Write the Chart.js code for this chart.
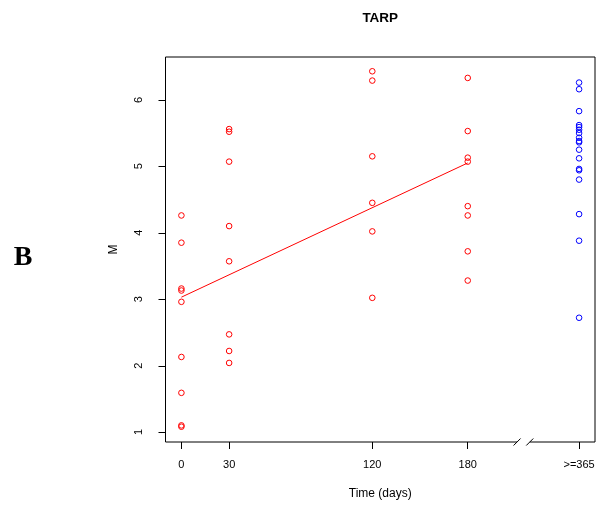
<!DOCTYPE html>
<html>
<head>
<meta charset="utf-8">
<script src="https://cdn.jsdelivr.net/npm/chart.js@4.4.1/dist/chart.umd.min.js"></script>
<style>
  body { margin: 0; background: #fff; }
  #wrap { width: 600px; height: 508px; }
</style>
</head>
<body>
<div id="wrap"><canvas id="tarpChart"></canvas></div>
<script>
// M per time point (days); >=365 is plotted at x = 250 on the broken axis
const day0 = [4.26, 3.85, 3.16, 3.13, 2.96, 2.13, 1.59, 1.10, 1.08];
const day30 = [5.56, 5.52, 5.07, 4.10, 3.57, 2.47, 2.22, 2.04];
const day120 = [6.43, 6.29, 5.15, 4.45, 4.02, 3.02];
const day180 = [6.33, 5.53, 5.13, 5.07, 4.40, 4.26, 3.72, 3.28];
const day365 = [6.26, 6.16, 5.83, 5.62, 5.59, 5.55, 5.50, 5.43, 5.38, 5.36, 5.25, 5.12, 4.96, 4.94, 4.80, 4.28, 3.88, 2.72];

const fitLine = [{ x: 0, y: 3.03 }, { x: 180, y: 5.05 }];

const xTickValues = [0, 30, 120, 180, 250];
const xTickLabels = ['0', '30', '120', '180', '>=365'];
const yTickValues = [1, 2, 3, 4, 5, 6];

const axisBreak = [211, 219]; // where the x axis is cut

const pts = (x, arr) => arr.map(v => ({ x: x, y: v }));
const redPoints = [].concat(pts(0, day0), pts(30, day30), pts(120, day120), pts(180, day180));
const bluePoints = pts(250, day365);

// box round the plot, bottom side cut with //, y tick marks
const boxPlugin = {
    id: 'box',
    afterDraw(chart) {
        const ctx = chart.ctx;
        const a = chart.chartArea;
        const xs = chart.scales.x;
        const ys = chart.scales.y;
        const b1 = xs.getPixelForValue(axisBreak[0]);
        const b2 = xs.getPixelForValue(axisBreak[1]);
        ctx.save();
        ctx.strokeStyle = '#000';
        ctx.lineWidth = 1;
        ctx.beginPath();
        ctx.moveTo(b1, a.bottom);
        ctx.lineTo(a.left, a.bottom);
        ctx.lineTo(a.left, a.top);
        ctx.lineTo(a.right, a.top);
        ctx.lineTo(a.right, a.bottom);
        ctx.lineTo(b2, a.bottom);
        [b1, b2].forEach(bx => {
            ctx.moveTo(bx - 3.5, a.bottom + 3.5);
            ctx.lineTo(bx + 3.5, a.bottom - 3.5);
        });
        ys.ticks.forEach(t => {
            const py = Math.round(ys.getPixelForValue(t.value)) + 0.5;
            ctx.moveTo(a.left, py);
            ctx.lineTo(a.left - 7, py);
        });
        ctx.stroke();

        // panel letter
        ctx.fillStyle = '#000';
        ctx.font = 'bold 28px "Liberation Serif"';
        ctx.textAlign = 'center';
        ctx.textBaseline = 'middle';
        ctx.fillText('B', 23, 258);
        ctx.restore();
    }
};

const ctx = document.getElementById('tarpChart');
new Chart(ctx, {
    type: 'scatter',
    data: {
        datasets: [{
            data: redPoints,
            borderColor: '#FF0000',
            backgroundColor: 'rgba(0,0,0,0)',
            borderWidth: 1,
            pointRadius: 2.8
        }, {
            data: bluePoints,
            borderColor: '#0000FF',
            backgroundColor: 'rgba(0,0,0,0)',
            borderWidth: 1,
            pointRadius: 2.8
        }, {
            data: fitLine,
            showLine: true,
            borderColor: '#FF0000',
            borderWidth: 1,
            pointRadius: 0
        }]
    },
    options: {
        responsive: true,
        maintainAspectRatio: false,
        animation: false,
        layout: { padding: { left: 0, right: 4.5, top: 0, bottom: 0 } },
        plugins: {
            legend: { display: false },
            tooltip: { enabled: false },
            title: {
                display: true,
                text: 'TARP',
                fullSize: false,
                color: '#000',
                font: { family: '"Liberation Sans", Arial', size: 13.5, weight: 'bold' },
                padding: { top: 9.9, bottom: 30.9 }
            }
        },
        scales: {
            x: {
                type: 'linear',
                min: -10,
                max: 260,
                afterBuildTicks: s => { s.ticks = xTickValues.map(v => ({ value: v })); },
                afterFit: s => { s.height = 66; s.paddingLeft = 0; s.paddingRight = 0; },
                border: { display: false },
                grid: { drawOnChartArea: false, drawTicks: true, tickLength: 7, color: '#000' },
                ticks: {
                    color: '#000',
                    padding: 9,
                    maxRotation: 0,
                    autoSkip: false,
                    font: { family: '"Liberation Sans", Arial', size: 11 },
                    callback: v => xTickLabels[xTickValues.indexOf(v)]
                },
                title: {
                    display: true,
                    text: 'Time (days)',
                    color: '#000',
                    font: { family: '"Liberation Sans", Arial', size: 12 },
                    padding: { top: 0, bottom: 6.8 }
                }
            },
            y: {
                type: 'linear',
                min: 0.85,
                max: 6.645,
                afterBuildTicks: s => { s.ticks = yTickValues.map(v => ({ value: v })); },
                afterFit: s => { s.width = 165.5; s.paddingTop = 0; s.paddingBottom = 0; },
                border: { display: false },
                grid: { display: false },
                ticks: {
                    color: '#000',
                    padding: 15.5,
                    minRotation: 90,
                    maxRotation: 90,
                    crossAlign: 'center',
                    autoSkip: false,
                    font: { family: '"Liberation Sans", Arial', size: 11 }
                },
                title: {
                    display: true,
                    text: 'M',
                    color: '#000',
                    font: { family: '"Liberation Sans", Arial', size: 12 },
                    padding: { top: 106.8, bottom: 0 }
                }
            }
        }
    },
    plugins: [boxPlugin]
});
</script>
</body>
</html>
